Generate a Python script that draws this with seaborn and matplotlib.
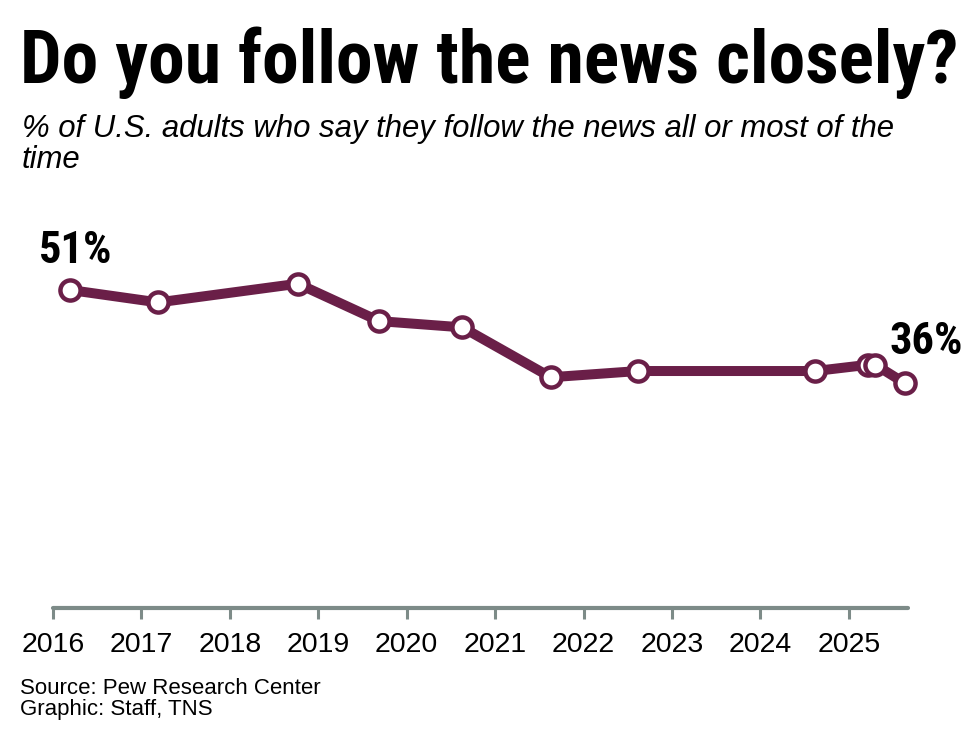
import matplotlib
matplotlib.use("Agg")
import matplotlib.pyplot as plt
import seaborn as sns
import pandas as pd

# ---- data ----
survey_dates = [2016.19, 2017.19, 2018.77, 2019.69, 2020.63, 2021.63,
                2022.62, 2024.62, 2025.22, 2025.30, 2025.64]
pct_follow = [51, 49, 52, 46, 45, 37, 38, 38, 39, 39, 36]
year_ticks = [2016, 2017, 2018, 2019, 2020, 2021, 2022, 2023, 2024, 2025]
first_label = "51%"
last_label = "36%"

title_text = "Do you follow the news closely?"
subtitle_text = "% of U.S. adults who say they follow the news all or most of the\ntime"
source_text = "Source: Pew Research Center\nGraphic: Staff, TNS"

df = pd.DataFrame({"date": survey_dates, "pct": pct_follow})

sns.set_theme(style="white")
plt.rcParams["font.family"] = ["Liberation Sans", "DejaVu Sans"]

LINE = "#6a1f48"
AXIS = "#7d8b88"
NARROW = ["Roboto Condensed", "Liberation Sans Narrow", "Liberation Sans", "DejaVu Sans"]

W, H = 967, 741
fig = plt.figure(figsize=(W / 100, H / 100), dpi=100)
fig.patch.set_facecolor("white")

# axes: x 53..908 px, y baseline at 608 px, top at 265 px (55%)
ax = fig.add_axes([53 / W, 1 - 608 / H, (908 - 53) / W, (608 - 265) / H])
ax.set_facecolor("white")

sns.lineplot(data=df, x="date", y="pct", ax=ax, color=LINE, linewidth=7.2,
             marker="o", markersize=14.5, markerfacecolor="white",
             markeredgecolor=LINE, markeredgewidth=3.2, clip_on=False,
             solid_capstyle="round", solid_joinstyle="round")

ax.set_xlim(2016, 2025.67)
ax.set_ylim(0, 55)
ax.set_xlabel("")
ax.set_ylabel("")
ax.set_yticks([])
ax.set_xticks(year_ticks)
ax.set_xticklabels([str(y) for y in year_ticks])
for s in ["left", "right", "top"]:
    ax.spines[s].set_visible(False)
ax.spines["bottom"].set_color(AXIS)
ax.spines["bottom"].set_linewidth(3.0)
ax.spines["bottom"].set_capstyle("round")
ax.tick_params(axis="x", direction="out", length=8, width=2.2, color=AXIS,
               pad=9, labelsize=20.5, labelcolor="black", bottom=True)

# value labels
ax.annotate(first_label, xy=(survey_dates[0], pct_follow[0]), xytext=(4, 19.5),
            textcoords="offset points", ha="center", va="baseline",
            fontsize=32, fontweight="black", family=NARROW,
            color="black", annotation_clip=False)
ax.annotate(last_label, xy=(survey_dates[-1], pct_follow[-1]), xytext=(15, 21),
            textcoords="offset points", ha="center", va="baseline",
            fontsize=32, fontweight="black", family=NARROW,
            color="black", annotation_clip=False)

# title, fitted to the reference width
t = fig.text(20 / W, 1 - 83 / H, title_text, ha="left", va="baseline",
             fontsize=60, fontweight="black", family=NARROW,
             color="black")
fig.canvas.draw()
bb = t.get_window_extent(renderer=fig.canvas.get_renderer())
t.set_fontsize(min(75, 60 * 938 / bb.width))

# multi-line texts: va="baseline" refers to the last line
fig.text(22 / W, 1 - 168 / H, subtitle_text, ha="left", va="baseline",
         fontsize=22.4, style="italic", color="black", linespacing=1.06)

fig.text(20 / W, 1 - 715 / H, source_text, ha="left", va="baseline",
         fontsize=16, color="black", linespacing=1.02)

fig.savefig("out.png", dpi=100, facecolor="white")
